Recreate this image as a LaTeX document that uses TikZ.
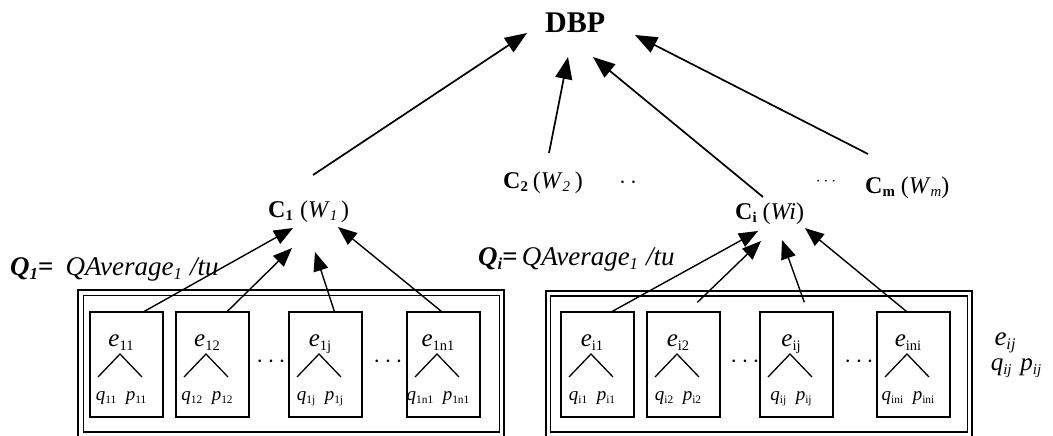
\documentclass[tikz,border=0pt]{standalone}
\usepackage{fontspec}
\setmainfont{Liberation Serif}
\usetikzlibrary{arrows.meta,calc}
\newcommand{\lo}[2][0.62]{\raisebox{-0.35ex}{\scalebox{#1}{#2}}}
\tikzset{
  bigarr/.style={-{Triangle[length=22pt,width=17pt]}, line width=1.7pt},
  smallarr/.style={-{Triangle[length=19pt,width=15pt]}, line width=1.4pt},
  ebox/.style={draw, line width=1.3pt, minimum width=73pt, minimum height=105pt, inner sep=0pt},
  outerbox/.style={draw, line width=2.2pt},
  innerbox/.style={draw, line width=1.1pt},
  clab/.style={font=\fontsize{24}{28}\selectfont, inner sep=0pt, anchor=base west},
  elab/.style={font=\fontsize{25}{29}\selectfont, inner sep=0pt, anchor=base},
  qplab/.style={font=\fontsize{19}{23}\selectfont, inner sep=0pt, anchor=base},
  qlab/.style={font=\fontsize{27}{31}\selectfont, inner sep=0pt, anchor=base west},
  dotlab/.style={font=\fontsize{28}{30}\selectfont, inner sep=0pt},
  wedge/.style={line width=1.3pt}
}
\newcommand{\elem}[5]{%
  \begin{scope}[shift={(#2,312)}]
    \node[ebox] (#1) at (36.5,52.5) {};
    \node[elab] (#1e) at (31,34) {\textit{e}\lo[0.58]{#3}};
    \draw[wedge] (8,65) -- (30,42) -- (52,65);
    \node[qplab] (#1q) at (31,88) {\textit{q}\lo[0.6]{#4}\hspace{0.5em}\textit{p}\lo[0.6]{#5}};
  \end{scope}}
\begin{document}
\begin{tikzpicture}[x=1pt,y=-1pt]
\useasboundingbox (0,0) rectangle (1053,436);
\clip (0,0) rectangle (1053,436);
\fill[white] (0,0) rectangle (1053,436);

% group frames
\node[outerbox, minimum width=426pt, minimum height=150pt, inner sep=0pt] (lout) at (291,365) {};
\node[innerbox, minimum width=416pt, minimum height=136.5pt, inner sep=0pt] (lin) at (291.5,363.75) {};
\node[outerbox, minimum width=426pt, minimum height=150pt, inner sep=0pt] (rout) at (759,366) {};
\node[innerbox, minimum width=417pt, minimum height=136pt, inner sep=0pt] (rin) at (759,364) {};

% element boxes
\elem{e11}{90}{11}{11}{11}
\elem{e12}{176}{12}{12}{12}
\elem{e1j}{289}{1j}{1j}{1j}
\elem{e1n}{407}{1n1}{1n1}{1n1}
\elem{ei1}{561}{i1}{i1}{i1}
\elem{ei2}{647}{i2}{i2}{i2}
\elem{eij}{760}{ij}{ij}{ij}
\elem{ein}{877}{ini}{ini}{ini}

% dots between boxes
\node[dotlab] (d1) at (271,362) {$\cdots$};
\node[dotlab] (d2) at (388,362) {$\cdots$};
\node[dotlab] (d3) at (745,362) {$\cdots$};
\node[dotlab] (d4) at (859,362) {$\cdots$};

% top level
\node[font=\fontsize{30}{34}\selectfont\bfseries, inner sep=0pt, anchor=base west] (dbp) at (545,33) {DBP};
\node[clab] (c1) at (268,217) {\textbf{C}\lo{\textbf{1}}\hspace{0.3em}(\textit{W}\lo{\textit{1}}\hspace{0.15em})};
\node[clab] (c2) at (503,188) {\textbf{C}\lo{\textbf{2}}\hspace{0.2em}(\textit{W}\lo{\textit{2}}\hspace{0.2em})};
\node[dotlab] (c2dots) at (628,183) {$\cdot\,\cdot$};
\node[clab] (ci) at (735,219) {\textbf{C}\lo{\textbf{i}}\hspace{0.25em}(\textit{Wi})};
\node[dotlab, font=\fontsize{18}{20}\selectfont] (cdots) at (826,182) {$\cdots$};
\node[clab] (cm) at (865,193) {\textbf{C}\lo{\textbf{m}}\hspace{0.25em}(\textit{W}\lo{\textit{m}})};

% Q labels
\node[qlab] (q1) at (10,275) {\textbf{\textit{Q}}\lo{\textbf{\textit{1}}}\textbf{=}\hspace{0.45em}\textit{QAverage}\lo{\textit{1}}\hspace{0.3em}\textit{/tu}};
\node[qlab] (qi) at (478,265) {\textbf{\textit{Q}}\lo{\textbf{\textit{i}}}\textbf{=}\hspace{0.15em}\textit{QAverage}\lo{\textit{1}}\hspace{0.3em}\textit{/tu}};

% legend on the right
\node[elab, font=\fontsize{27}{31}\selectfont] (leg1) at (1005,345) {\textit{e}\lo[0.6]{\textit{ij}}};
\node[qplab, font=\fontsize{25}{29}\selectfont] (leg2) at (1016,370) {\textit{q}\lo[0.6]{\textit{ij}}\hspace{0.35em}\textit{p}\lo[0.6]{\textit{ij}}};

% arrows to DBP
\draw[bigarr] ($(c1.base west)+(45,-42)$) -- ($(dbp.base west)+(-18,0)$);
\draw[bigarr] ($(c2.base west)+(46,-35)$) -- ($(dbp.base west)+(23,24)$);
\draw[bigarr] ($(ci.base west)+(28,-22)$) -- ($(dbp.base west)+(48,24)$);
\draw[bigarr] ($(cm.base west)+(3,-39)$) -- ($(dbp.base west)+(90,2)$);

% arrows to C1
\draw[smallarr] ($(e11.north west)+(55,0)$) -- ($(c1.base west)+(25,11)$);
\draw[smallarr] ($(e12.north west)+(52,0)$) -- ($(c1.base west)+(24,31)$);
\draw[smallarr] ($(e1j.north west)+(46,0)$) -- ($(c1.base west)+(47,35)$);
\draw[smallarr] ($(e1n.north west)+(35,0)$) -- ($(c1.base west)+(70,10)$);

% arrows to Ci
\draw[smallarr] ($(ei1.north west)+(52,0)$) -- ($(ci.base west)+(23,12)$);
\draw[smallarr] ($(ei2.north west)+(51,-9)$) -- ($(ci.base west)+(26,22)$);
\draw[smallarr] ($(eij.north west)+(45,-9)$) -- ($(ci.base west)+(47,21)$);
\draw[smallarr] ($(ein.north west)+(30,0)$) -- ($(ci.base west)+(70,9)$);
\end{tikzpicture}
\end{document}
